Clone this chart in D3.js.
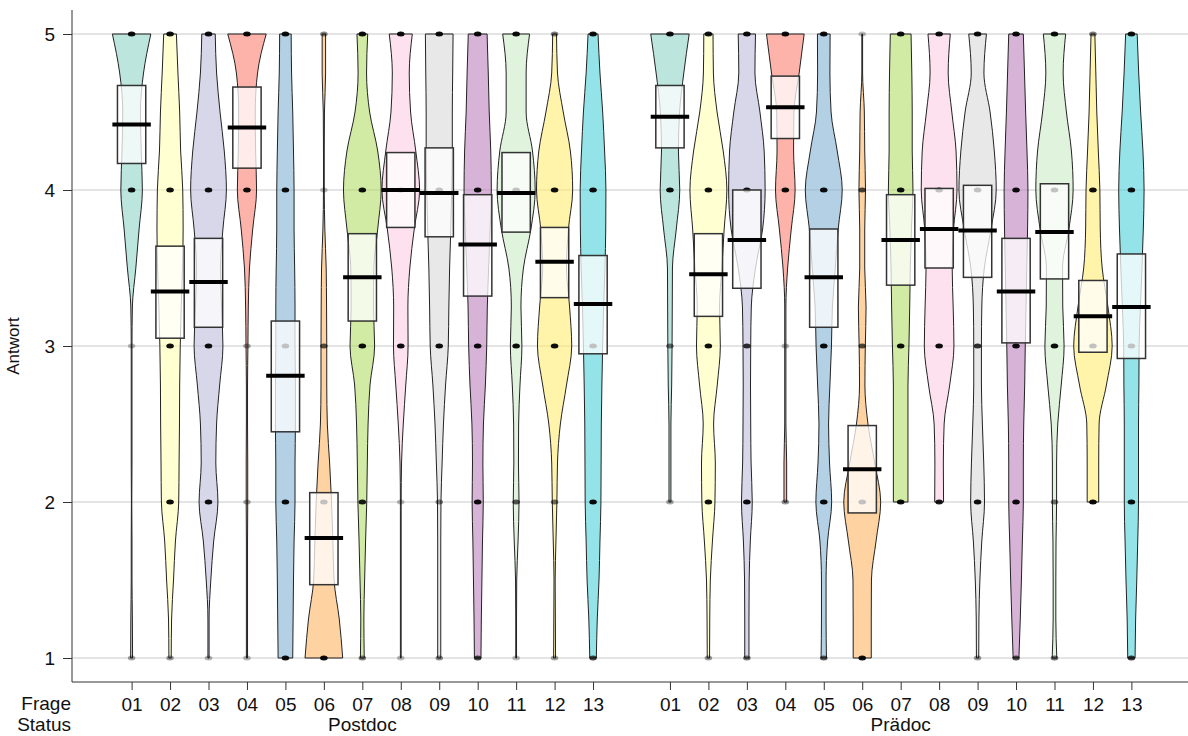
<!DOCTYPE html>
<html>
<head>
<meta charset="utf-8">
<script src="https://cdn.jsdelivr.net/npm/d3@7"></script>
<style>
  body { margin: 0; background: #fff; }
  svg { display: block; }
  text { font-family: "Liberation Sans", Arial, sans-serif; fill: #111; }
</style>
</head>
<body>
<svg id="chart" width="1188" height="736"></svg>
<script>
// ---- data -------------------------------------------------------------
const questions = ["01","02","03","04","05","06","07","08","09","10","11","12","13"];
const statusGroups = ["Postdoc", "Prädoc"];
const answerTicks = [1, 2, 3, 4, 5];
// answer levels at which the bean densities are given
const densityLevels = [1,1.25,1.5,1.75,2,2.25,2.5,2.75,3,3.25,3.5,3.75,4,4.25,4.5,4.75,5];
const palette = ["#8DD3C7","#FFFFB3","#BEBADA","#FB8072","#80B1D3","#FDB462","#B3DE69",
                 "#FCCDE5","#D9D9D9","#BC80BD","#CCEBC5","#FFED6F","#4DD0D9"];

// bean density (bean width in category units), one row per question, null = outside data range
const postdocDensity = [
  [0.05,0.04,0.02,0.02,0.01,0.02,0.02,0.02,0.02,0.04,0.22,0.39,0.56,0.50,0.46,0.62,1.00],
  [0.06,0.08,0.18,0.28,0.45,0.47,0.49,0.50,0.53,0.58,0.65,0.68,0.66,0.55,0.50,0.41,0.33],
  [0.03,0.03,0.12,0.27,0.49,0.38,0.42,0.58,0.75,0.68,0.62,0.75,0.93,0.82,0.60,0.42,0.35],
  [0.03,0.03,0.03,0.03,0.04,0.04,0.03,0.03,0.05,0.07,0.13,0.30,0.50,0.45,0.43,0.55,1.00],
  [0.38,0.40,0.42,0.45,0.50,0.50,0.52,0.52,0.50,0.50,0.48,0.45,0.45,0.42,0.38,0.32,0.30],
  [0.98,0.80,0.53,0.47,0.40,0.30,0.18,0.15,0.15,0.14,0.12,0.05,0.02,0.02,0.03,0.09,0.09],
  [0.10,0.08,0.12,0.17,0.23,0.26,0.30,0.40,0.64,0.58,0.60,0.80,0.98,0.80,0.38,0.22,0.28],
  [0.02,0.02,0.02,0.02,0.02,0.04,0.13,0.26,0.38,0.37,0.47,0.70,0.98,0.78,0.51,0.44,0.60],
  [0.08,0.08,0.08,0.08,0.09,0.15,0.22,0.33,0.47,0.50,0.54,0.60,0.65,0.68,0.68,0.70,0.72],
  [0.17,0.19,0.22,0.25,0.29,0.27,0.30,0.40,0.47,0.50,0.57,0.65,0.71,0.68,0.60,0.55,0.49],
  [0.02,0.02,0.03,0.10,0.15,0.12,0.13,0.20,0.30,0.25,0.38,0.77,0.99,0.85,0.52,0.52,0.70],
  [0.05,0.04,0.03,0.07,0.12,0.15,0.30,0.62,0.89,0.78,0.62,0.72,0.94,0.82,0.45,0.15,0.10],
  [0.17,0.22,0.31,0.36,0.41,0.42,0.43,0.46,0.50,0.55,0.62,0.66,0.67,0.60,0.50,0.36,0.26]
];
const praedocDensity = [
  [null,null,null,null,0.05,0.05,0.05,0.09,0.11,0.12,0.13,0.33,0.51,0.44,0.50,0.72,1.00],
  [0.06,0.07,0.10,0.21,0.34,0.36,0.27,0.46,0.62,0.58,0.70,0.82,0.96,0.77,0.45,0.26,0.24],
  [0.11,0.11,0.12,0.18,0.28,0.22,0.20,0.19,0.20,0.23,0.45,0.82,0.95,0.90,0.68,0.42,0.45],
  [null,null,null,null,0.07,0.07,0.03,0.03,0.03,0.03,0.12,0.31,0.51,0.43,0.45,0.72,0.98],
  [0.14,0.12,0.12,0.20,0.41,0.30,0.25,0.32,0.40,0.45,0.60,0.75,0.96,0.70,0.38,0.32,0.33],
  [0.47,0.47,0.48,0.72,0.96,0.65,0.30,0.14,0.16,0.20,0.13,0.13,0.17,0.13,0.11,0.02,0.02],
  [null,null,null,null,0.38,0.38,0.38,0.38,0.43,0.47,0.50,0.56,0.64,0.60,0.60,0.58,0.54],
  [null,null,null,null,0.23,0.22,0.26,0.55,0.77,0.73,0.68,0.75,0.93,0.88,0.66,0.47,0.58],
  [0.06,0.07,0.12,0.22,0.36,0.32,0.25,0.20,0.20,0.22,0.35,0.70,0.97,0.87,0.65,0.33,0.46],
  [0.15,0.22,0.28,0.33,0.38,0.38,0.40,0.45,0.48,0.52,0.56,0.60,0.62,0.57,0.50,0.44,0.38],
  [0.12,0.07,0.07,0.08,0.11,0.11,0.17,0.35,0.50,0.43,0.42,0.75,0.97,0.88,0.62,0.45,0.58],
  [null,null,null,null,0.30,0.30,0.32,0.70,1.00,0.78,0.48,0.38,0.36,0.28,0.20,0.15,0.10],
  [0.19,0.22,0.28,0.33,0.37,0.37,0.37,0.39,0.40,0.47,0.55,0.62,0.66,0.60,0.48,0.38,0.30]
];

// mean answer and interval bounds per question
const postdocMean = [4.42,3.35,3.41,4.40,2.81,1.77,3.44,4.00,3.98,3.65,3.98,3.54,3.27];
const postdocLow  = [4.17,3.05,3.12,4.14,2.45,1.47,3.16,3.76,3.70,3.32,3.73,3.31,2.95];
const postdocHigh = [4.67,3.64,3.69,4.66,3.16,2.06,3.72,4.24,4.27,3.97,4.24,3.76,3.58];
const praedocMean = [4.47,3.46,3.68,4.53,3.44,2.21,3.68,3.75,3.74,3.35,3.73,3.19,3.25];
const praedocLow  = [4.27,3.19,3.37,4.33,3.12,1.93,3.39,3.50,3.44,3.02,3.43,2.96,2.92];
const praedocHigh = [4.67,3.72,4.00,4.73,3.75,2.49,3.97,4.01,4.03,3.69,4.04,3.42,3.59];

// ---- layout -----------------------------------------------------------
const svg = d3.select("#chart");
const plot = { left: 72, right: 1191, top: 10, bottom: 682 };

const x = d3.scaleLinear().domain([-0.55, 28.55]).range([plot.left, plot.right]);
const y = d3.scaleLinear().domain([1, 5]).range([658, 34]);

// one record per bean
const beans = [];
statusGroups.forEach((g, gi) => {
  const dens = gi === 0 ? postdocDensity : praedocDensity;
  const mean = gi === 0 ? postdocMean : praedocMean;
  const low  = gi === 0 ? postdocLow : praedocLow;
  const high = gi === 0 ? postdocHigh : praedocHigh;
  questions.forEach((q, qi) => {
    beans.push({
      group: g, question: q, color: palette[qi],
      pos: qi + 1 + gi * 14,
      profile: densityLevels.map((lv, li) => ({ level: lv, w: dens[qi][li] }))
                            .filter(d => d.w !== null),
      mean: mean[qi], low: low[qi], high: high[qi]
    });
  });
});

// horizontal reference lines
svg.append("g").selectAll("line").data(answerTicks).join("line")
  .attr("x1", plot.left).attr("x2", plot.right)
  .attr("y1", d => y(d)).attr("y2", d => y(d))
  .attr("stroke", "#c9c9c9").attr("stroke-width", 1);

// beans
const area = d3.area()
  .y(d => y(d.level))
  .x0(d => x(d.pos - d.w / 2))
  .x1(d => x(d.pos + d.w / 2))
  .curve(d3.curveMonotoneY);

svg.append("g").selectAll("path").data(beans).join("path")
  .attr("d", b => area(b.profile.map(p => ({ ...p, pos: b.pos }))))
  .attr("fill", b => b.color).attr("fill-opacity", 0.6)
  .attr("stroke", "#222").attr("stroke-width", 1);

// raw answers, stacked at each answer value
const pts = [];
beans.forEach(b => {
  b.profile.forEach(p => {
    if (Number.isInteger(p.level) && p.w >= 0.015) {
      pts.push({ pos: b.pos, level: p.level, o: Math.min(0.95, 0.2 + 3 * p.w) });
    }
  });
});
svg.append("g").selectAll("ellipse").data(pts).join("ellipse")
  .attr("cx", d => x(d.pos)).attr("cy", d => y(d.level))
  .attr("rx", 3.8).attr("ry", 2.5)
  .attr("fill", "#000").attr("fill-opacity", d => d.o);

// interval boxes
const boxHalf = 0.368;
svg.append("g").selectAll("rect").data(beans).join("rect")
  .attr("x", b => x(b.pos - boxHalf))
  .attr("width", b => x(b.pos + boxHalf) - x(b.pos - boxHalf))
  .attr("y", b => y(b.high))
  .attr("height", b => y(b.low) - y(b.high))
  .attr("fill", "#fff").attr("fill-opacity", 0.75)
  .attr("stroke", "#333").attr("stroke-width", 1.5);

// mean bars
svg.append("g").selectAll("line").data(beans).join("line")
  .attr("x1", b => x(b.pos - 0.5)).attr("x2", b => x(b.pos + 0.5))
  .attr("y1", b => y(b.mean)).attr("y2", b => y(b.mean))
  .attr("stroke", "#000").attr("stroke-width", 4);

// frame (left and bottom)
svg.append("line").attr("x1", plot.left).attr("x2", plot.left)
  .attr("y1", plot.top).attr("y2", plot.bottom)
  .attr("stroke", "#333").attr("stroke-width", 1);
svg.append("line").attr("x1", plot.left).attr("x2", plot.right)
  .attr("y1", plot.bottom).attr("y2", plot.bottom)
  .attr("stroke", "#333").attr("stroke-width", 1);

// y axis
const yAxis = svg.append("g").attr("transform", `translate(${plot.left},0)`)
  .call(d3.axisLeft(y).tickValues(answerTicks).tickFormat(d3.format("d"))
        .tickSize(9).tickSizeOuter(0).tickPadding(8));
yAxis.select(".domain").remove();
yAxis.selectAll("line").attr("stroke", "#333");
yAxis.selectAll("text").attr("font-size", 19).attr("fill", "#111")
  .attr("font-family", "Liberation Sans, Arial, sans-serif");

// x axis: question numbers
const positions = beans.map(b => b.pos);
const xAxis = svg.append("g").attr("transform", `translate(0,${plot.bottom})`)
  .call(d3.axisBottom(x).tickValues(positions)
        .tickFormat((d, i) => beans[i].question)
        .tickSize(8).tickSizeOuter(0).tickPadding(8));
xAxis.select(".domain").remove();
xAxis.selectAll("line").attr("stroke", "#333");
xAxis.selectAll("text").attr("font-size", 19).attr("fill", "#111")
  .attr("font-family", "Liberation Sans, Arial, sans-serif");

// group names under the question numbers
svg.append("g").selectAll("text").data(statusGroups).join("text")
  .attr("x", (d, i) => x(7 + i * 14)).attr("y", 731)
  .attr("text-anchor", "middle").attr("font-size", 19)
  .text(d => d);

// row captions
svg.append("text").attr("x", 71).attr("y", 710).attr("text-anchor", "end")
  .attr("font-size", 19).text("Frage");
svg.append("text").attr("x", 71).attr("y", 731).attr("text-anchor", "end")
  .attr("font-size", 19).text("Status");

// y title
svg.append("text")
  .attr("transform", `translate(19,${(plot.top + plot.bottom) / 2}) rotate(-90)`)
  .attr("text-anchor", "middle").attr("font-size", 17)
  .text("Antwort");
</script>
</body>
</html>
